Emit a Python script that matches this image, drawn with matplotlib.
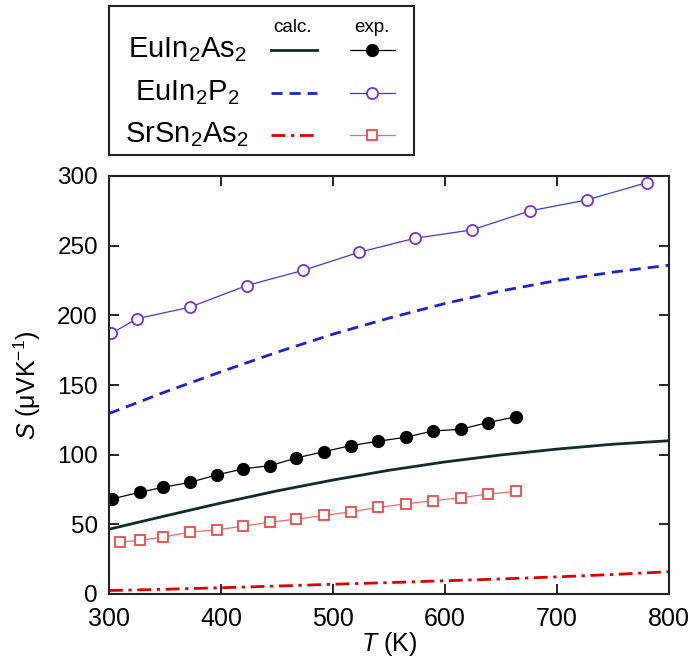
import numpy as np
import matplotlib
matplotlib.use("Agg")
import matplotlib.pyplot as plt

plt.rcParams['font.family'] = ['Liberation Sans', 'DejaVu Sans']
plt.rcParams['mathtext.fontset'] = 'custom'
plt.rcParams['mathtext.rm'] = 'Liberation Sans'
plt.rcParams['mathtext.it'] = 'Liberation Sans:italic'

# calculated curves (T in K, S in uV/K)
T_calc = [300, 350, 400, 450, 500, 550, 600, 650, 700, 750, 800]
S_calc_euinas = [46.5, 56.0, 65.3, 74.0, 81.8, 88.8, 94.8, 99.8, 104.0, 107.5, 110.0]
S_calc_euinp = [129.5, 145.0, 159.5, 173.5, 186.5, 198.0, 208.5, 217.5, 225.0, 231.0, 236.0]
S_calc_srsnas = [2.5, 3.4, 4.5, 5.7, 7.0, 8.2, 9.5, 10.8, 12.3, 14.0, 16.0]

# experimental points
T_exp_euinas = [303, 328, 348, 372, 396, 420, 444, 467, 492, 516, 540, 565, 589, 614, 638, 663]
S_exp_euinas = [68.3, 73.1, 76.5, 80.1, 85.4, 89.9, 92.1, 97.6, 102.2, 106.5, 109.6, 112.5,
                117.0, 118.2, 123.0, 127.1]

T_exp_euinp = [302, 325, 372, 423, 473, 523, 573, 624, 676, 727, 780]
S_exp_euinp = [187.0, 197.6, 205.8, 221.4, 232.2, 245.2, 255.3, 261.3, 275.0, 282.9, 295.2]

T_exp_srsnas = [310, 328, 348, 372, 396, 420, 444, 467, 492, 516, 540, 565, 589, 614, 638, 663]
S_exp_srsnas = [37.2, 38.6, 40.8, 44.4, 46.0, 48.7, 51.6, 53.7, 56.4, 59.0, 62.1, 64.7,
                66.9, 69.1, 71.7, 73.6]

labels = [r'EuIn$_2$As$_2$', r'EuIn$_2$P$_2$', r'SrSn$_2$As$_2$']

W, H = 696, 662
fig = plt.figure(figsize=(W / 100, H / 100), dpi=100)
ax = fig.add_axes([109 / W, 1 - 594 / H, 560 / W, 418 / H])

# styles: (calc kwargs, exp kwargs)
styles = [
    (dict(color='#112b27', lw=2.0, ls='-'),
     dict(color='black', lw=0.9, marker='o', ms=8.5, mfc='black', mec='black')),
    (dict(color='#1a22cc', lw=2.0, ls=(0, (4, 2.5))),
     dict(color='#3a3ae0', lw=0.9, marker='o', ms=8, mfc='white', mec='#7a2fd6', mew=1.3)),
    (dict(color='#e00000', lw=2.0, ls=(0, (5, 2, 1.2, 2))),
     dict(color='#f26a6a', lw=0.9, marker='s', ms=7.5, mfc='white', mec='#f04848', mew=1.3)),
]

calc = [S_calc_euinas, S_calc_euinp, S_calc_srsnas]
exp_T = [T_exp_euinas, T_exp_euinp, T_exp_srsnas]
exp_S = [S_exp_euinas, S_exp_euinp, S_exp_srsnas]

for i in range(3):
    ax.plot(T_calc, calc[i], **styles[i][0])
    ax.plot(exp_T[i], exp_S[i], **styles[i][1])

ax.set_xlim(300, 800)
ax.set_ylim(0, 300)
ax.set_xticks([300, 400, 500, 600, 700, 800])
ax.set_yticks([0, 50, 100, 150, 200, 250, 300])
ax.tick_params(direction='in', length=7, width=1.2, top=True, right=True,
               labelsize=18)
ax.tick_params(axis='x', pad=9)
ax.tick_params(axis='y', pad=8, labelsize=17.5)
for sp in ax.spines.values():
    sp.set_linewidth(1.5)
    sp.set_color('#222222')
ax.set_xlabel(r'$T$ (K)', fontsize=18, labelpad=0)
ax.set_ylabel(r'$S$ (μVK$^{-1}$)', fontsize=18, labelpad=10)

# legend box drawn by hand above the plot
lax = fig.add_axes([109 / W, 1 - 155 / H, 305 / W, 149 / H])
lax.set_xlim(0, 1)
lax.set_ylim(0, 1)
lax.set_xticks([])
lax.set_yticks([])
for sp in lax.spines.values():
    sp.set_linewidth(1.5)
    sp.set_color('#222222')
lax.text(0.603, 0.855, 'calc.', ha='center', va='center', fontsize=13.5)
lax.text(0.862, 0.855, 'exp.', ha='center', va='center', fontsize=13.5)
rows = [0.705, 0.416, 0.134]
for i, y in enumerate(rows):
    lax.text(0.256, y, labels[i], ha='center', va='center', fontsize=21)
    lax.plot([0.531, 0.682], [y, y], **styles[i][0])
    lax.plot([0.79, 0.938], [y, y], **{k: v for k, v in styles[i][1].items() if k != 'marker'})
    lax.plot([0.862], [y], ls='none', **{k: v for k, v in styles[i][1].items() if k not in ('lw', 'color')},
             color=styles[i][1]['color'])

fig.savefig('out.png', dpi=100)
